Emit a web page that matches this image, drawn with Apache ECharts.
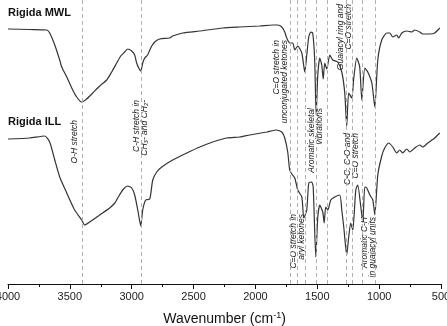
<!DOCTYPE html>
<html>
<head>
<meta charset="utf-8">
<script src="https://cdn.jsdelivr.net/npm/echarts@6/dist/echarts.min.js"></script>
<style>
  html, body { margin: 0; padding: 0; background: #fff; }
  #chart { width: 447px; height: 326px; }
</style>
</head>
<body>
<div id="chart"></div>
<script>
// FTIR spectra, Rigida MWL (upper) and Rigida ILL (lower), arbitrary transmittance units
const mwlWave = [4000, 3825, 3687, 3663, 3622, 3582, 3566, 3525, 3485, 3445, 3404, 3364, 3315, 3259, 3202, 3162, 3121, 3089, 3057, 3032, 3000, 2976, 2960, 2943, 2927, 2911, 2895, 2871, 2854, 2838, 2814, 2774, 2693, 2669, 2588, 2450, 2264, 2127, 1965, 1860, 1820, 1787, 1763, 1747, 1723, 1698, 1682, 1658, 1625, 1601, 1585, 1569, 1553, 1537, 1521, 1509, 1496, 1480, 1464, 1452, 1440, 1423, 1399, 1375, 1335, 1302, 1278, 1262, 1246, 1221, 1205, 1181, 1157, 1140, 1116, 1092, 1059, 1035, 1011, 979, 938, 914, 890, 858, 842, 817, 777, 736, 712, 672, 648, 591, 551, 510];
const mwlVal = [255, 254.5, 254, 251, 239, 224, 217, 207, 196, 187, 182, 185, 191, 198, 204, 212, 221, 228, 232, 235, 233, 229, 221, 216, 213, 221, 226, 229, 234, 238, 242, 245, 246, 248, 251, 253, 256, 257, 258, 259, 259, 257, 252, 246, 241, 241, 234, 238, 231, 212, 229, 247, 252, 251, 224, 169, 209, 226, 219, 205, 221, 215, 229, 224, 222, 212, 191, 158, 191, 186, 206, 226, 217, 184, 216, 212, 201, 177, 224, 244, 251, 251, 247, 249, 246, 251, 253, 252, 254, 252, 250, 250, 251, 256];

const illWave = [4000, 3825, 3703, 3663, 3622, 3582, 3525, 3461, 3404, 3380, 3340, 3259, 3178, 3137, 3113, 3073, 3032, 3000, 2976, 2951, 2927, 2911, 2887, 2854, 2830, 2798, 2757, 2669, 2555, 2450, 2345, 2232, 2127, 2046, 1909, 1828, 1787, 1763, 1739, 1723, 1706, 1682, 1658, 1625, 1609, 1585, 1569, 1545, 1533, 1512, 1496, 1480, 1456, 1444, 1432, 1415, 1391, 1359, 1318, 1302, 1286, 1262, 1246, 1230, 1213, 1189, 1173, 1148, 1132, 1116, 1100, 1075, 1051, 1035, 1011, 979, 955, 922, 890, 858, 834, 809, 777, 753, 712, 672, 648, 607, 551, 510];
const illVal = [145, 146, 148, 142, 124, 107, 91, 74, 64, 59, 62, 69, 76, 81, 86, 94, 98, 96, 89, 74, 58, 74, 84, 85, 104, 112, 117, 124, 131, 137, 142, 146, 147, 149, 152, 154, 152, 146, 132, 114, 110, 106, 94, 87, 66, 74, 101, 102, 97, 27, 67, 79, 72, 61, 77, 74, 84, 87, 89, 74, 57, 29, 47, 61, 54, 94, 99, 77, 62, 97, 96, 89, 84, 69, 109, 128, 136, 141, 137, 131, 134, 131, 135, 132, 136, 139, 137, 141, 146, 151];

// band assignments (cm-1), drawn as dashed guide lines
const bandLines = [3400, 2920, 1715, 1660, 1595, 1510, 1420, 1265, 1220, 1140, 1030];

const seriesNames = ["Rigida MWL", "Rigida ILL"];

// rotated annotations: [text, x px, top px]
const notes = [
  ["O-H stretch", 75, 120],
  ["C-H stretch in\nCH\u2083- and CH\u2082-", 141, 100],
  ["C=O stretch in\nunconjugated ketones", 281, 40],
  ["Aromatic skeletal\nvibrations", 316, 108],
  ["Guaiacyl ring and\nC=O stretch", 345, 4],
  ["C-C, C-O and\nC=O stretch", 351.5, 133],
  ["C=O stretch in\naryl ketones", 297.5, 214],
  ["Aromatic C-H\nin guaiacyl units", 369, 217],
];

const chart = echarts.init(document.getElementById("chart"), null, { renderer: "canvas" });

const pairs = (xs, ys) => xs.map((x, i) => [x, ys[i]]);

const graphics = [
  {
    type: "text", left: 8, top: 7,
    style: { text: seriesNames[0], font: "bold 11px 'Liberation Sans', Arial", fill: "#111" },
  },
  {
    type: "text", left: 8, top: 116,
    style: { text: seriesNames[1], font: "bold 11px 'Liberation Sans', Arial", fill: "#111" },
  },
];
notes.forEach(([t, x, y]) => {
  graphics.push({
    type: "text",
    x: x, y: y,
    rotation: Math.PI / 2,
    style: {
      text: t,
      font: "italic 8.5px 'Liberation Sans', Arial",
      fill: "#1a1a1a",
      align: "right",
      verticalAlign: "middle",
      lineHeight: 8,
    },
  });
});

const option = {
  animation: false,
  backgroundColor: "#fff",
  grid: { left: 8, right: 6, top: 0, bottom: 42, containLabel: false, outerBoundsMode: "none" },
  xAxis: {
    type: "value",
    inverse: true,
    min: 500,
    max: 4000,
    interval: 500,
    name: "{a|Wavenumber (cm}{b|-1}{a|)}",
    nameLocation: "middle",
    nameGap: 27,
    nameTextStyle: {
      rich: {
        a: { fontSize: 14, color: "#111", fontFamily: "'Liberation Sans', Arial" },
        b: { fontSize: 9, color: "#111", verticalAlign: "top", padding: [0, 0, 8, 0], fontFamily: "'Liberation Sans', Arial" },
      },
    },
    axisLine: { lineStyle: { color: "#111", width: 1 } },
    axisTick: { length: 5, lineStyle: { color: "#111" } },
    minorTick: { show: true, splitNumber: 2, length: 3, lineStyle: { color: "#111" } },
    axisLabel: {
      color: "#222", fontSize: 11, margin: 7,
      fontFamily: "'Liberation Sans', Arial",
      formatter: v => String(v),
    },
    splitLine: { show: false },
  },
  yAxis: {
    type: "value",
    min: 0,
    max: 284,
    show: false,
  },
  graphic: graphics,
  series: [
    {
      name: seriesNames[0],
      type: "line",
      showSymbol: false,
      smooth: 0.2,
      lineStyle: { color: "#333", width: 1.2 },
      data: pairs(mwlWave, mwlVal),
      markLine: {
        silent: true,
        symbol: "none",
        label: { show: false },
        lineStyle: { type: [4, 3], color: "#b0b0b0", width: 1 },
        data: bandLines.map(w => ({ xAxis: w })),
      },
      z: 3,
    },
    {
      name: seriesNames[1],
      type: "line",
      showSymbol: false,
      smooth: 0.2,
      lineStyle: { color: "#333", width: 1.2 },
      data: pairs(illWave, illVal),
      z: 3,
    },
  ],
};

chart.setOption(option);
</script>
</body>
</html>
